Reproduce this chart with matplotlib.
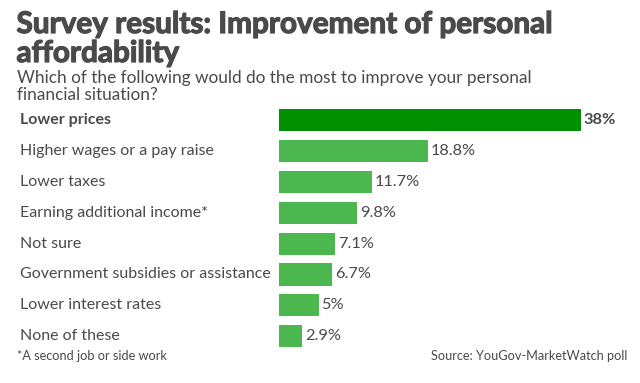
import matplotlib.pyplot as plt
from matplotlib import transforms
import matplotlib.patheffects as pe

# datos
categorias = ["Lower prices", "Higher wages or a pay raise", "Lower taxes",
              "Earning additional income*", "Not sure",
              "Government subsidies or assistance", "Lower interest rates",
              "None of these"]
valores = [38, 18.8, 11.7, 9.8, 7.1, 6.7, 5, 2.9]
etiquetas = ["38%", "18.8%", "11.7%", "9.8%", "7.1%", "6.7%", "5%", "2.9%"]

titulo = ["Survey results: Improvement of personal", "affordability"]
subtitulo = ["Which of the following would do the most to improve your personal",
             "financial situation?"]

gris = "#4a4a4a"
verde_oscuro = "#008f00"
verde = "#4cb74f"

plt.rcParams['font.family'] = ['Lato', 'DejaVu Sans']

W, H = 640, 383
fig = plt.figure(figsize=(W / 100, H / 100), dpi=100)

# titulo y subtitulo, una linea a la vez (y = linea base en px)
grueso = [pe.withStroke(linewidth=0.9, foreground=gris)]
for linea, yb in zip(titulo, [33, 62]):
    fig.text(16.5 / W, 1 - yb / H, linea, fontsize=21.4, fontweight='bold',
             color=gris, va='baseline', ha='left', path_effects=grueso)
for linea, yb in zip(subtitulo, [83, 99.5]):
    fig.text(17 / W, 1 - yb / H, linea, fontsize=12.4, color=gris,
             va='baseline', ha='left')

# ejes de las barras
x0, x1 = 279, 581
y_top, y_bot = 105, 351.5
ax = fig.add_axes([x0 / W, 1 - y_bot / H, (x1 - x0) / W, (y_bot - y_top) / H])
n = len(valores)
colores = [verde_oscuro] + [verde] * (n - 1)
ax.barh(range(n), valores, height=0.72, color=colores)
ax.set_xlim(0, 38)
ax.set_ylim(n - 0.5, -0.5)
ax.axis('off')

trans = transforms.blended_transform_factory(fig.transFigure, ax.transData)
for i, (cat, v, lab) in enumerate(zip(categorias, valores, etiquetas)):
    peso = 'bold' if i == 0 else 'normal'
    fig.text(20 / W, i, cat, transform=trans, fontsize=11.5, color=gris,
             va='center', ha='left', fontweight=peso)
    ax.annotate(lab, (v, i), xytext=(2, 0), textcoords='offset points',
                va='center', ha='left', fontsize=11.8, color=gris,
                fontweight=peso)

# notas al pie
fig.text(17 / W, 1 - 356 / H, "*A second job or side work", fontsize=9.2,
         color=gris, va='center', ha='left')
fig.text(627 / W, 1 - 356 / H, "Source: YouGov-MarketWatch poll", fontsize=9.2,
         color=gris, va='center', ha='right')

fig.savefig("out.png", dpi=100)
